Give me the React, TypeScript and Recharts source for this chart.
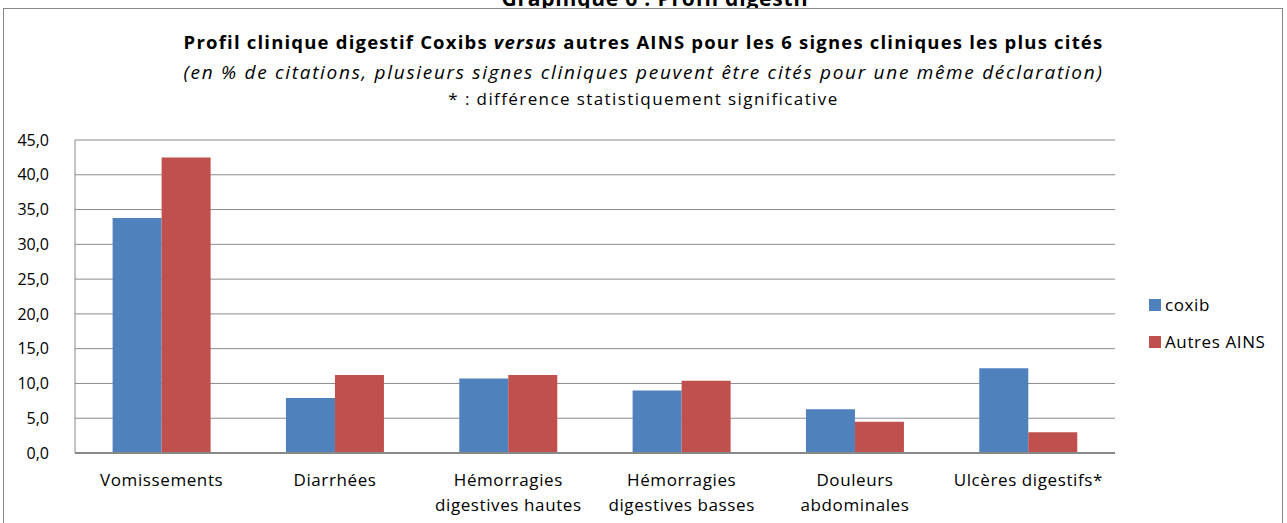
import { Bar, BarChart, CartesianGrid, XAxis, YAxis } from "recharts";

const categories = [
  "Vomissements",
  "Diarrhées",
  "Hémorragies\ndigestives hautes",
  "Hémorragies\ndigestives basses",
  "Douleurs\nabdominales",
  "Ulcères digestifs*",
];
const coxib = [33.8, 7.9, 10.7, 9.0, 6.3, 12.2];
const autresAins = [42.5, 11.2, 11.2, 10.4, 4.5, 3.0];
const yTicks = [0, 5, 10, 15, 20, 25, 30, 35, 40, 45];

const data = categories.map((name, i) => ({ name, coxib: coxib[i], autres: autresAins[i] }));

const FONT = "'Open Sans', sans-serif";

const CategoryTick = ({ x, y, payload }: any) => {
  const lines = String(payload.value).split("\n");
  return (
    <text
      x={x}
      y={y + 25}
      textAnchor="middle"
      fill="#000"
      fontSize={17}
      fontFamily={FONT}
      style={{ letterSpacing: 0.6 }}
    >
      {lines.map((l, i) => (
        <tspan key={i} x={x} dy={i === 0 ? 0 : 25}>
          {l}
        </tspan>
      ))}
    </text>
  );
};

const legendItems = [
  { label: "coxib", color: "#4F81BD" },
  { label: "Autres AINS", color: "#C0504D" },
];

export default function App() {
  return (
    <div
      style={{
        position: "absolute",
        left: 0,
        top: 0,
        width: 1287,
        height: 523,
        overflow: "hidden",
        background: "#fff",
        fontFamily: FONT,
      }}
    >
      <div
        style={{
          position: "absolute",
          left: 0,
          width: 1287,
          top: -16,
          textAlign: "center",
          fontWeight: 700,
          fontSize: 21,
          letterSpacing: 0.8,
          paddingLeft: 12,
        }}
      >
        Graphique 6 : Profil digestif
      </div>
      <div
        style={{
          position: "absolute",
          left: 3,
          top: 8,
          width: 1278,
          height: 530,
          border: "1px solid #888",
          background: "#fff",
        }}
      />
      <div style={{ position: "absolute", left: 0, top: 27, width: 1287, textAlign: "center" }}>
        <div style={{ fontWeight: 700, fontSize: 18.5, letterSpacing: 1.2, lineHeight: "30px" }}>
          Profil clinique digestif Coxibs <i>versus</i> autres AINS pour les 6 signes cliniques les plus cités
        </div>
        <div style={{ fontStyle: "italic", fontSize: 19, letterSpacing: 1.7, lineHeight: "30px" }}>
          (en % de citations, plusieurs signes cliniques peuvent être cités pour une même déclaration)
        </div>
        <div style={{ fontSize: 17, letterSpacing: 1.4, lineHeight: "24px" }}>
          * : différence statistiquement significative
        </div>
      </div>
      <div style={{ position: "absolute", left: 0, top: 0 }}>
        <BarChart
          width={1287}
          height={523}
          data={data}
          margin={{ top: 140, right: 172, left: 0, bottom: 10 }}
          barCategoryGap="21.7%"
          barGap={0}
        >
          <CartesianGrid horizontal vertical={false} stroke="#8c8c8c" />
          <XAxis
            dataKey="name"
            height={60}
            tick={<CategoryTick />}
            tickLine={false}
            axisLine={{ stroke: "#888", strokeWidth: 2 }}
            interval={0}
          />
          <YAxis
            width={75}
            domain={[0, 45]}
            ticks={yTicks}
            tickFormatter={(v: number) => v.toFixed(1).replace(".", ",")}
            tick={{ fill: "#000", fontSize: 16, fontFamily: FONT }}
            tickLine={false}
            axisLine={{ stroke: "#888" }}
            tickMargin={20}
          />
          <Bar dataKey="coxib" name="coxib" fill="#4F81BD" isAnimationActive={false} />
          <Bar dataKey="autres" name="Autres AINS" fill="#C0504D" isAnimationActive={false} />
        </BarChart>
      </div>
      <div style={{ position: "absolute", left: 1149, top: 286, fontSize: 17, letterSpacing: 0.6 }}>
        {legendItems.map((it) => (
          <div key={it.label} style={{ display: "flex", alignItems: "center", height: 37 }}>
            <span style={{ width: 12, height: 12, background: it.color, marginRight: 4 }} />
            {it.label}
          </div>
        ))}
      </div>
    </div>
  );
}
